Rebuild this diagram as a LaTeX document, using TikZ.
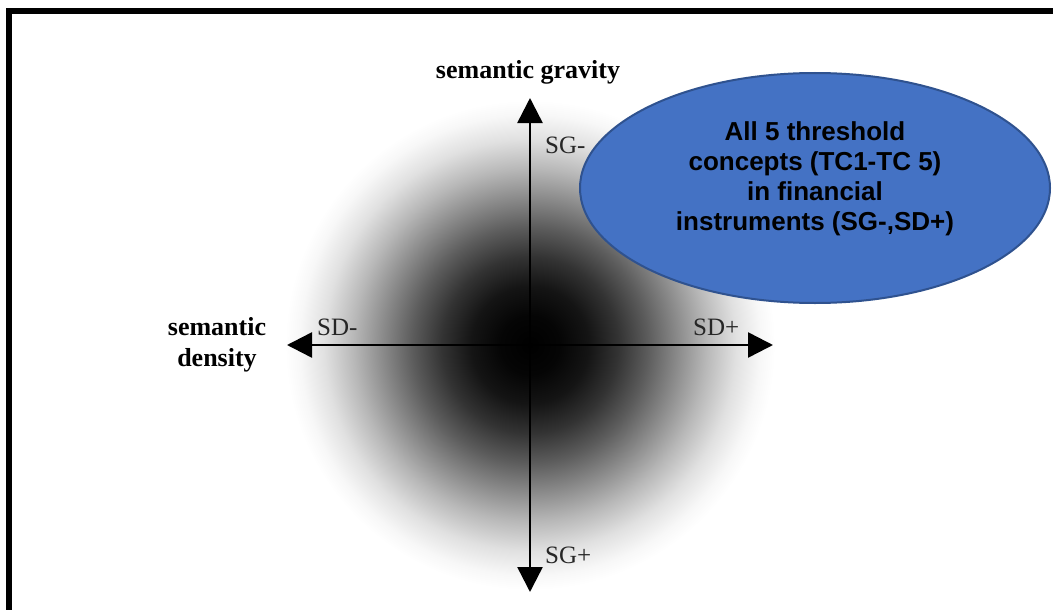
\documentclass[tikz,border=0pt]{standalone}
\usepackage{fontspec}
\setmainfont{Liberation Serif}
\newfontfamily\arialfont{Liberation Sans}
\usetikzlibrary{arrows.meta,shapes.geometric}
\definecolor{ellfill}{HTML}{4472C4}
\definecolor{elldraw}{HTML}{2F528F}
\pgfdeclareradialshading{blob}{\pgfpoint{0bp}{0bp}}{%
  color(0bp)=(black);
  color(3bp)=(black!98);
  color(6bp)=(black!92);
  color(9bp)=(black!80);
  color(12bp)=(black!64);
  color(15bp)=(black!46);
  color(18bp)=(black!28);
  color(21bp)=(black!12);
  color(23.5bp)=(black!3);
  color(25bp)=(white);
  color(50bp)=(white)}
\begin{document}
\begin{tikzpicture}[x=1pt,y=-1pt,
  axis/.style={line width=2.5pt,{Triangle[length=25pt,width=25pt]}-{Triangle[length=25pt,width=25pt]}},
  boldlab/.style={font=\fontsize{26}{31}\selectfont\bfseries,inner sep=0pt},
  axlab/.style={font=\fontsize{25}{30}\selectfont,inner sep=0pt,text=black!85},
  bubble/.style={ellipse,fill=ellfill,draw=elldraw,line width=2pt,minimum width=470pt,minimum height=230pt,inner sep=0pt}]
\useasboundingbox (0,0) rectangle (1053,610);
\clip (0,0) rectangle (1053,610);
\fill[white] (0,0) rectangle (1053,610);
% shaded blob
\shade[shading=blob] (530,345) circle[radius=245];
% frame
\draw[line width=6pt] (9,640) -- (9,11) -- (1090,11);
% axes
\coordinate (top) at (530,98);
\coordinate (bottom) at (530,592);
\coordinate (left) at (287,345);
\coordinate (right) at (773,345);
\draw[axis] (bottom) -- (top);
\draw[axis] (left) -- (right);
% labels
\node[boldlab,anchor=base] (sg) at (528,79) {semantic gravity};
\node[boldlab,align=center] (sd) at (217,345) {semantic\\density};
\node[axlab,anchor=base west] (sgm) at (545,153) {SG-};
\node[axlab,anchor=base west] (sgp) at (545,563) {SG+};
\node[axlab,anchor=base west] (sdm) at (317,335) {SD-};
\node[axlab,anchor=base west] (sdp) at (693,335) {SD+};
% bubble
\node[bubble] (ell) at (815,188) {};
\node[font=\arialfont\bfseries\fontsize{26}{30}\selectfont,align=center,inner sep=0pt] (elltext) at (815,179)
  {All 5 threshold\\concepts (TC1-TC 5)\\in financial\\instruments (SG-,SD+)};
\end{tikzpicture}
\end{document}
